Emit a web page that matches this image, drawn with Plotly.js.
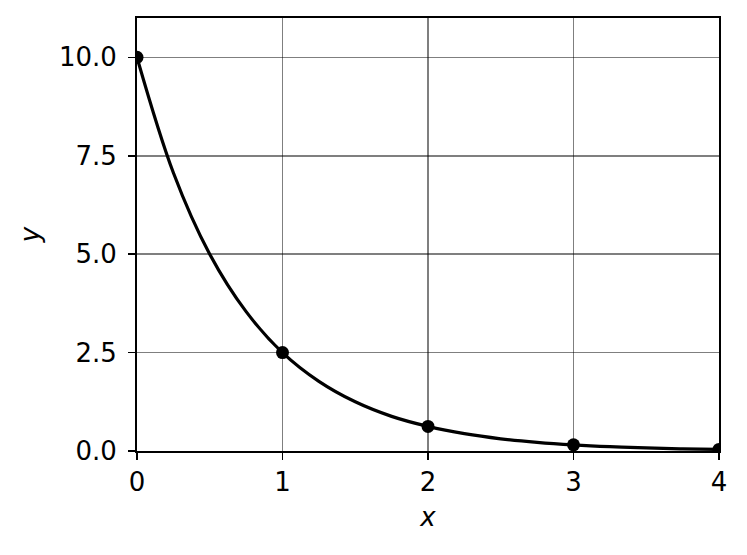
<!DOCTYPE html>
<html>
<head>
<meta charset="utf-8">
<script src="https://cdn.plot.ly/plotly-3.0.1.min.js"></script>
<style>
  html, body { margin: 0; padding: 0; background: #fff; }
  #chart { width: 747px; height: 555px; }
</style>
</head>
<body>
<div id="chart"></div>
<script>
// curve
var curveX = [0, 0.25, 0.5, 0.75, 1, 1.25, 1.5, 1.75, 2, 2.25, 2.5, 2.75, 3, 3.25, 3.5, 3.75, 4];
var curveY = [10, 7.07, 5.0, 3.54, 2.5, 1.77, 1.25, 0.88, 0.625, 0.44, 0.31, 0.22, 0.156, 0.11, 0.078, 0.055, 0.039];

// sample points
var pointX = [0, 1, 2, 3, 4];
var pointY = [10, 2.5, 0.625, 0.156, 0.039];

var xTicks = [0, 1, 2, 3, 4];
var yTicks = [0, 2.5, 5, 7.5, 10];
var yTickText = ['0.0', '2.5', '5.0', '7.5', '10.0'];

var font = 'DejaVu Sans, sans-serif';

var curve = {
    x: curveX,
    y: curveY,
    type: 'scatter',
    mode: 'lines',
    line: { color: 'black', width: 3.2, shape: 'spline' },
    hoverinfo: 'skip'
};

var points = {
    x: pointX,
    y: pointY,
    type: 'scatter',
    mode: 'markers',
    marker: { color: 'black', size: 13 }
};

var axisCommon = {
    showline: true,
    linecolor: 'black',
    linewidth: 2,
    mirror: true,
    ticks: 'outside',
    ticklen: 7,
    tickwidth: 1.5,
    tickcolor: 'black',
    showgrid: true,
    gridcolor: 'rgba(0,0,0,0.5)',
    gridwidth: 1.6,
    zeroline: false,
    tickfont: { family: font, size: 26, color: 'black' }
};

var layout = {
    width: 747,
    height: 555,
    margin: { l: 137, r: 28, t: 18, b: 104 },
    paper_bgcolor: 'white',
    plot_bgcolor: 'white',
    showlegend: false,
    xaxis: Object.assign({}, axisCommon, {
        range: [0, 4],
        tickvals: xTicks,
        title: { text: '<i>x</i>', font: { family: font, size: 26, color: 'black' }, standoff: 12 }
    }),
    yaxis: Object.assign({}, axisCommon, {
        range: [0, 11],
        tickvals: yTicks,
        ticktext: yTickText,
        ticklabelstandoff: 6,
        title: { text: '<i>y</i>', font: { family: font, size: 26, color: 'black' }, standoff: 12 }
    })
};

Plotly.newPlot('chart', [curve, points], layout, { displayModeBar: false, staticPlot: true });
</script>
</body>
</html>
